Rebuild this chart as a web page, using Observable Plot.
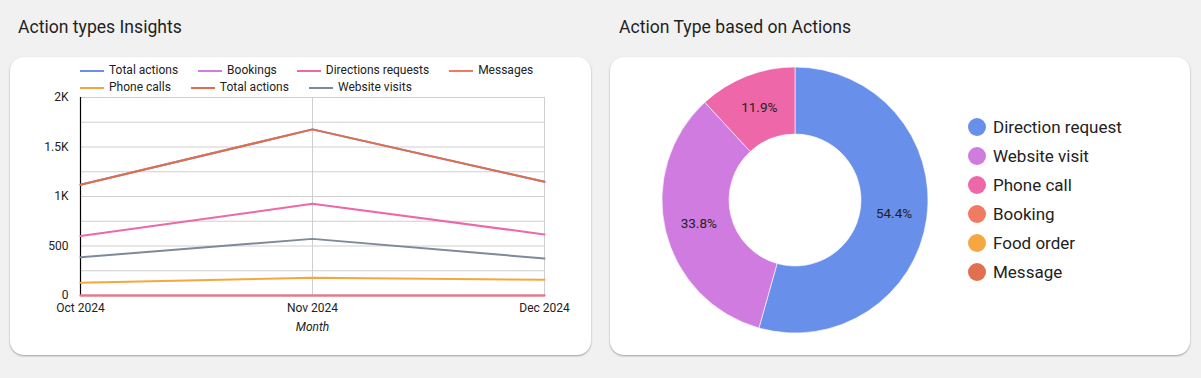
<!DOCTYPE html>
<html>
<head>
<meta charset="utf-8">
<script src="https://cdn.jsdelivr.net/npm/d3@7"></script>
<script src="https://cdn.jsdelivr.net/npm/@observablehq/plot@0.6"></script>
<style>
  html, body { margin: 0; padding: 0; }
  body { width: 1201px; height: 378px; background: #f1f1f1; position: relative; overflow: hidden; font-family: Roboto, sans-serif; color: #222; }
  .title { position: absolute; top: 17px; font-size: 17.6px; line-height: 20px; color: #1f1f1f; white-space: nowrap; }
  .card { position: absolute; top: 57px; height: 298px; background: #fff; border-radius: 14px; box-shadow: 0 1px 2px rgba(0,0,0,0.35); }
  .lg { position: absolute; left: 70px; top: 5px; width: 490px; font-size: 12px; line-height: 17px; display: flex; flex-wrap: wrap; color: #222; }
  .lg .it { display: inline-flex; align-items: center; margin-right: 20px; white-space: nowrap; }
  .lg .sw { width: 24px; height: 2px; margin-right: 5px; }
  .dl { position: absolute; left: 358px; top: 55.5px; font-size: 17px; line-height: 29px; color: #222; }
  .dl .it { display: flex; align-items: center; height: 29px; white-space: nowrap; }
  .dl .dot { width: 18px; height: 18px; border-radius: 50%; margin-right: 7px; }
  svg { position: absolute; overflow: visible; }
</style>
</head>
<body>
<div class="title" style="left:18px">Action types Insights</div>
<div class="title" style="left:619px">Action Type based on Actions</div>
<div class="card" id="left" style="left:10px; width:581px;"></div>
<div class="card" id="right" style="left:610px; width:580px;"></div>
<script>
// ---- Line chart data ----
const months = ["Oct 2024", "Nov 2024", "Dec 2024"];
const totalActions = [1118, 1678, 1149];
const bookings = [0, 0, 0];
const directionsRequests = [602, 926, 617];
const messages = [0, 0, 0];
const phoneCalls = [130, 180, 158];
const websiteVisits = [386, 572, 374];

const seriesNames = ["Total actions", "Bookings", "Directions requests", "Messages", "Phone calls", "Total actions", "Website visits"];
const seriesColors = ["#6a8fea", "#d07ce0", "#ee67a9", "#f07c5f", "#f6a63f", "#e06e4b", "#7d8a98"];
const seriesValues = [totalActions, bookings, directionsRequests, messages, phoneCalls, totalActions, websiteVisits];

const yTicks = [0, 500, 1000, 1500, 2000];
const yTickLabels = ["0", "500", "1K", "1.5K", "2K"];
const yGrid = [0, 250, 500, 750, 1000, 1250, 1500, 1750, 2000];
const xLabel = "Month";

// ---- Donut data ----
const donutCategories = ["Direction request", "Website visit", "Phone call", "Booking", "Food order", "Message"];
const donutValues = [2145, 1332, 468, 0, 0, 0];
const donutColors = ["#6890eb", "#d07bdf", "#ee67a9", "#ef7b63", "#f5a742", "#e0704f"];

// ---- Line chart ----
const lineData = seriesValues.flatMap((vals, i) => months.map((m, j) => ({key: i, month: m, value: vals[j]})));
const left = document.getElementById("left");

const lg = document.createElement("div");
lg.className = "lg";
seriesNames.forEach((n, i) => {
  const it = document.createElement("span");
  it.className = "it";
  it.innerHTML = `<span class="sw" style="background:${seriesColors[i]}"></span>${n}`;
  lg.appendChild(it);
});
left.appendChild(lg);

const lineChart = Plot.plot({
  width: 581,
  height: 250,
  marginTop: 7,
  marginBottom: 45,
  marginLeft: 70,
  marginRight: 47,
  style: {fontFamily: "Roboto, sans-serif", fontSize: "12px", color: "#222", background: "transparent"},
  x: {type: "point", domain: months, padding: 0},
  y: {domain: [0, 2000]},
  color: {type: "ordinal", domain: d3.range(seriesNames.length), range: seriesColors},
  marks: [
    Plot.gridY(yGrid, {stroke: "#cfcfcf", strokeOpacity: 1}),
    Plot.gridX(months, {stroke: "#cfcfcf", strokeOpacity: 1}),
    Plot.ruleX([months[0]], {stroke: "#000", strokeWidth: 1.2}),
    Plot.axisY(yTicks, {tickSize: 0, tickPadding: 12, tickFormat: d => yTickLabels[yTicks.indexOf(d)], label: null}),
    Plot.axisX(months, {tickSize: 0, tickPadding: 8, label: null}),
    Plot.text([xLabel], {frameAnchor: "bottom", dy: 32, fontStyle: "italic", lineAnchor: "middle"}),
    Plot.line(lineData, {x: "month", y: "value", z: "key", stroke: "key", strokeWidth: 2})
  ]
});
lineChart.style.left = "0px";
lineChart.style.top = "33px";
left.appendChild(lineChart);

// ---- Donut ----
const right = document.getElementById("right");
const total = d3.sum(donutValues);
const innerFrac = 0.496;
const pie = d3.pie().sort(null).value(d => d.value)(donutCategories.map((c, i) => ({cat: c, value: donutValues[i]})));
const colorScale = Plot.scale({color: {type: "ordinal", domain: donutCategories, range: donutColors}});
const midR = (1 + innerFrac) / 2;
const labels = pie.filter(p => p.value > 0).map(p => {
  const a = (p.startAngle + p.endAngle) / 2;
  return {x: Math.sin(a) * midR, y: Math.cos(a) * midR, text: d3.format(".1%")(p.value / total)};
});

function donutMark(index, scales, values, dimensions, context) {
  const cx = scales.x(0), cy = scales.y(0), R = scales.x(1) - cx;
  const arc = d3.arc().innerRadius(R * innerFrac).outerRadius(R);
  const g = d3.create("svg:g").attr("transform", `translate(${cx},${cy})`);
  g.selectAll("path").data(pie.filter(p => p.value > 0)).join("path")
    .attr("d", arc)
    .attr("fill", p => colorScale.apply(p.data.cat))
    .attr("stroke", "#fff")
    .attr("stroke-width", 0.6);
  return g.node();
}

const donut = Plot.plot({
  width: 340,
  height: 298,
  style: {fontFamily: "Roboto, sans-serif", fontSize: "13.5px", color: "#222", background: "transparent"},
  x: {domain: [-1, 1], range: [52, 318], axis: null},
  y: {domain: [-1, 1], range: [276, 10], axis: null},
  marks: [
    donutMark,
    Plot.text(labels, {x: "x", y: "y", text: "text", fill: "#222"})
  ]
});
donut.style.left = "0px";
donut.style.top = "0px";
right.appendChild(donut);

const dl = document.createElement("div");
dl.className = "dl";
donutCategories.forEach((c, i) => {
  const it = document.createElement("div");
  it.className = "it";
  it.innerHTML = `<span class="dot" style="background:${colorScale.apply(c)}"></span>${c}`;
  dl.appendChild(it);
});
right.appendChild(dl);
</script>
</body>
</html>
